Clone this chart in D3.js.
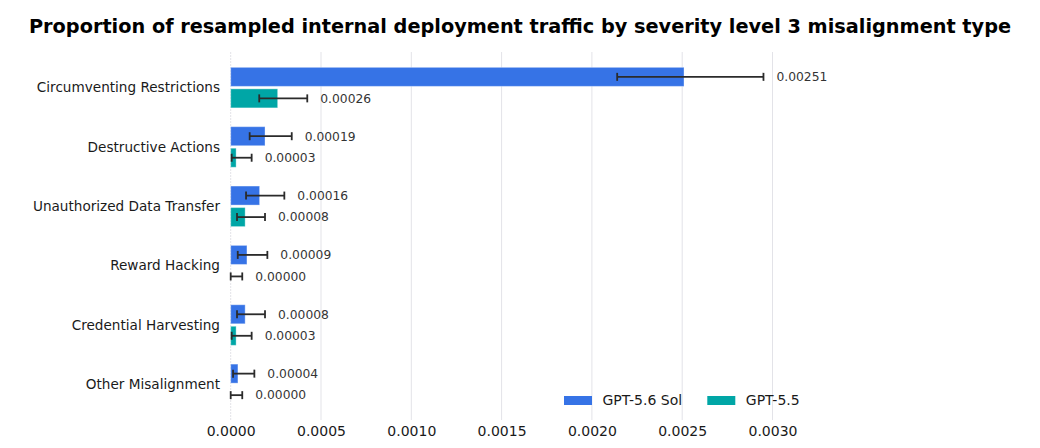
<!DOCTYPE html>
<html>
<head>
<meta charset="utf-8">
<script src="https://cdn.jsdelivr.net/npm/d3@7"></script>
<style>
  body { margin: 0; background: #fff; }
  svg { font-family: "DejaVu Sans", sans-serif; display: block; }
  .title { font-size: 19.3px; font-weight: bold; fill: #000; }
  .cat { font-size: 13.6px; fill: #1a1a1a; }
  .tick text { font-size: 14px; fill: #1a1a1a; font-family: "DejaVu Sans", sans-serif; }
  .val { font-size: 12.3px; fill: #333; }
  .legend text { font-size: 14px; fill: #1a1a1a; }
</style>
</head>
<body>
<div id="chart"></div>
<script>
const WIDTH = 1040, HEIGHT = 448;

// data
const categories = ["Circumventing Restrictions", "Destructive Actions", "Unauthorized Data Transfer",
  "Reward Hacking", "Credential Harvesting", "Other Misalignment"];
const series = ["GPT-5.6 Sol", "GPT-5.5"];
const solValues = [0.00251, 0.00019, 0.00016, 0.00009, 0.00008, 0.00004];
const solLow    = [0.00214, 0.000105, 0.000085, 0.000039, 0.000035, 0.000013];
const solHigh   = [0.00295, 0.000338, 0.000297, 0.000203, 0.00019, 0.000131];
const gptValues = [0.00026, 0.00003, 0.00008, 0.0, 0.00003, 0.0];
const gptLow    = [0.000158, 0.0000055, 0.000035, 0.0, 0.0000055, 0.0];
const gptHigh   = [0.000424, 0.000116, 0.00019, 0.000064, 0.000116, 0.000064];
const valueLabels = [
  ["0.00251", "0.00019", "0.00016", "0.00009", "0.00008", "0.00004"],
  ["0.00026", "0.00003", "0.00008", "0.00000", "0.00003", "0.00000"]
];
const xTicks = [0, 0.0005, 0.0010, 0.0015, 0.0020, 0.0025, 0.0030];
const colors = ["#3673e6", "#00a6a6"];

const rows = [];
categories.forEach((c, i) => {
  rows.push({ cat: c, s: series[0], si: 0, v: solValues[i], lo: solLow[i], hi: solHigh[i], label: valueLabels[0][i] });
  rows.push({ cat: c, s: series[1], si: 1, v: gptValues[i], lo: gptLow[i], hi: gptHigh[i], label: valueLabels[1][i] });
});

const svg = d3.select("#chart").append("svg")
  .attr("width", WIDTH).attr("height", HEIGHT);

const x = d3.scaleLinear().domain([0, 0.0030]).range([230.7, 772.5]);
const y = d3.scalePoint().domain(categories).range([52, 420]).padding(0.6);
const halfBand = y.step() * 0.3415;
const sub = d3.scaleBand().domain(series).range([-halfBand, halfBand]).paddingInner(0.116);

// grid
svg.append("g").attr("class", "grid")
  .selectAll("line").data(xTicks).join("line")
  .attr("x1", d => x(d)).attr("x2", d => x(d))
  .attr("y1", 52).attr("y2", 420)
  .attr("stroke", "#e3e3e8").attr("stroke-width", 1)
  .attr("stroke-dasharray", d => d === 0 ? "2,1" : null);

// x axis (labels only)
const xAxis = svg.append("g").attr("transform", "translate(0,420)")
  .call(d3.axisBottom(x).tickValues(xTicks).tickFormat(d3.format(".4f")).tickSize(0).tickPadding(6));
xAxis.select(".domain").remove();

// category labels
svg.append("g").selectAll("text").data(categories).join("text")
  .attr("class", "cat")
  .attr("x", 220).attr("y", d => y(d)).attr("dy", "0.35em")
  .attr("text-anchor", "end").text(d => d);

// bars
svg.append("g").selectAll("rect").data(rows).join("rect")
  .attr("x", x(0))
  .attr("y", d => y(d.cat) + sub(d.s))
  .attr("width", d => Math.max(0, x(d.v) - x(0)))
  .attr("height", sub.bandwidth())
  .attr("fill", d => colors[d.si])
  .attr("stroke", "rgba(255,255,255,0.35)").attr("stroke-width", 1);

// error bars
const eb = svg.append("g").attr("stroke", "#2b2b2b").attr("stroke-width", 1.8);
rows.forEach(d => {
  const cy = y(d.cat) + sub(d.s) + sub.bandwidth() / 2;
  eb.append("line").attr("x1", x(d.lo)).attr("x2", x(d.hi)).attr("y1", cy).attr("y2", cy);
  [d.lo, d.hi].forEach(v => {
    eb.append("line").attr("x1", x(v)).attr("x2", x(v)).attr("y1", cy - 4).attr("y2", cy + 4);
  });
});

// value labels
svg.append("g").selectAll("text").data(rows).join("text")
  .attr("class", "val")
  .attr("x", d => x(d.hi) + 13)
  .attr("y", d => y(d.cat) + sub(d.s) + sub.bandwidth() / 2)
  .attr("dy", "0.35em")
  .text(d => d.label);

// title
svg.append("text").attr("class", "title")
  .attr("x", 520).attr("y", 33).attr("text-anchor", "middle")
  .text("Proportion of resampled internal deployment traffic by severity level 3 misalignment type");

// legend
const legend = svg.append("g").attr("class", "legend").attr("transform", "translate(564,396)");
const items = legend.selectAll("g").data(series).join("g")
  .attr("transform", (_, i) => `translate(${i * 143.3},0)`);
items.append("rect").attr("width", 28).attr("height", 9).attr("fill", (_, i) => colors[i]);
items.append("text").attr("x", 38.5).attr("y", 4.5).attr("dy", "0.35em").text(d => d);
</script>
</body>
</html>
